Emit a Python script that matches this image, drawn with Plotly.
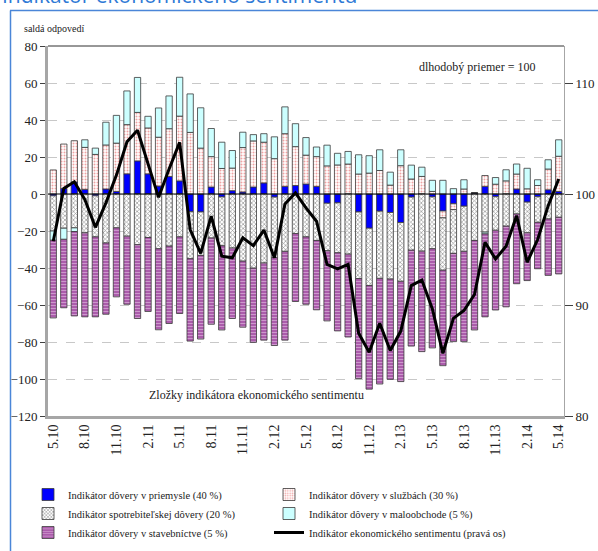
import plotly.graph_objects as go

months = ["5.10", "6.10", "7.10", "8.10", "9.10", "10.10", "11.10", "12.10",
          "1.11", "2.11", "3.11", "4.11", "5.11", "6.11", "7.11", "8.11", "9.11", "10.11", "11.11", "12.11",
          "1.12", "2.12", "3.12", "4.12", "5.12", "6.12", "7.12", "8.12", "9.12", "10.12", "11.12", "12.12",
          "1.13", "2.13", "3.13", "4.13", "5.13", "6.13", "7.13", "8.13", "9.13", "10.13", "11.13", "12.13",
          "1.14", "2.14", "3.14", "4.14", "5.14"]
tick_labels = ["5.10", "8.10", "11.10", "2.11", "5.11", "8.11", "11.11", "2.12", "5.12",
               "8.12", "11.12", "2.13", "5.13", "8.13", "11.13", "2.14", "5.14"]

industry = [-1, 3, 6.5, 2.5, -1, 2.7, 1.4, 10.9, 17.9, 10.9, 4.3, 9.5, 7.1, -9.6, -9.7, 3.8, -1.6, 1.8,
            1.1, 3.8, 6.0, -1.7, 4.1, 4.6, 5.4, 4.1, -5.0, -4.8, 0, -9.7, -18.5, -9.3, -10.0, -15.4, -1.7,
            0, -1.6, -9.2, -5.3, -6.6, 0.6, 4.1, -1.5, 0, 2.7, -4.4, -1.5, 2.3, 1.4]
services = [13, 24, 22.3, 22.7, 21.4, 23.8, 26.1, 26.6, 26.2, 24.8, 26.4, 25.8, 35, 33.3, 24.8, 16.4, 13.8,
            12.2, 24, 24.9, 22, 19.1, 28.5, 21, 15.6, 16.1, 15.2, 15.7, 16.2, 10.8, 11.3, 12.7, 4.8, 15.3,
            8.1, 9.5, 1.4, -3.7, -3.1, 2.7, 0, 5.9, 5.3, 7.1, 8.1, 2.8, 4.6, 11.2, 19]
consumer = [-19, -18.5, -18.3, -21, -22.2, -26.5, -18.3, -22.8, -27.4, -23.5, -29.6, -28.2, -23.2, -25.4,
            -23.5, -23.8, -26.4, -29.2, -36.3, -40.1, -37.3, -32.7, -31, -21.4, -23.2, -25.1, -25.7, -27,
            -32.5, -36, -31, -36.3, -36, -31.8, -28.7, -30.9, -28, -28.3, -23.7, -24.4, -25.1, -20.6,
            -18.1, -17.4, -10.8, -16.6, -13.8, -13.5, -12.6]
retail = [-5, -6, -2, 4.1, 3.4, 12.3, 15, 18.2, 18.9, 6.3, 15.8, 17.7, 21, 20.8, 21.8, 15.2, 14.2, 9.5,
          8.3, 3.4, 4.6, 11.8, 14.5, 12.4, 9.5, 5.2, 11.2, 6.3, 6.8, 10.4, 9.4, 11.2, 7, 8.6, 7.5, 5, 6,
          7.4, 2.9, 5, 0, -1, 3.6, 6, 5.4, 11.1, 3.1, 5, 8.9]
construction = [-42, -37, -45.6, -45.4, -43.2, -38.5, -37.3, -36.8, -39.9, -40, -43.8, -41.8, -41.4,
                -44.5, -45.2, -46.6, -45.5, -38.1, -35.7, -40.1, -41.7, -47.5, -48, -36.7, -36.4, -37.5,
                -37.9, -42.2, -44.8, -54.1, -56, -57.1, -54.2, -54.2, -51.8, -54.3, -53.6, -51.6, -47.7,
                -48.8, -48.4, -44.8, -43.1, -43.6, -37.7, -25.8, -25.1, -30.5, -30.6]
esi = [95.75, 100.5, 101.1, 99.5, 97.0, 99.2, 101.7, 104.7, 105.75, 102.8, 99.7, 102.25, 104.65, 96.8,
       94.65, 98.0, 94.4, 94.25, 96.05, 95.35, 96.75, 94.25, 99.1, 100.1, 98.75, 97.55, 93.65, 93.25,
       93.65, 87.45, 85.75, 88.35, 85.9, 87.65, 91.75, 92.25, 89.65, 85.65, 88.8, 89.5, 90.95, 95.65,
       94.15, 95.3, 98.05, 93.85, 95.9, 98.95, 101.35]

names = ["Indikátor dôvery v priemysle (40 %)",
         "Indikátor dôvery v službách (30 %)",
         "Indikátor spotrebiteľskej dôvery (20 %)",
         "Indikátor dôvery v maloobchode (5 %)",
         "Indikátor dôvery v stavebníctve (5 %)",
         "Indikátor ekonomického sentimentu (pravá os)"]

SERIF = "Liberation Serif, Times New Roman, serif"
L, R, T, B = 48, 34, 46, 135
W, H = 598, 551
PW, PH = W - L - R, H - T - B


def px(x):
    return (x - L) / PW


def py(y):
    return (H - B - y) / PH


line_style = dict(color="#3a3a3a", width=0.8)

fig = go.Figure()
fig.add_trace(go.Bar(x=months, y=industry, name=names[0], width=0.6,
                     marker=dict(color="#0000FF", line=line_style)))
fig.add_trace(go.Bar(x=months, y=services, name=names[1], width=0.6,
                     marker=dict(color="white", line=line_style,
                                 pattern=dict(shape=".", fgcolor="#E04848", bgcolor="white",
                                              size=3, solidity=0.35))))
fig.add_trace(go.Bar(x=months, y=consumer, name=names[2], width=0.6,
                     marker=dict(color="white", line=line_style,
                                 pattern=dict(shape="x", fgcolor="#2a2a2a", bgcolor="white",
                                              size=3, solidity=0.4))))
fig.add_trace(go.Bar(x=months, y=retail, name=names[3], width=0.6,
                     marker=dict(color="#CCFFFF", line=line_style)))
fig.add_trace(go.Bar(x=months, y=construction, name=names[4], width=0.6,
                     marker=dict(color="#B060B0", line=line_style,
                                 pattern=dict(shape="-", fgcolor="#F2D9F2", bgcolor="#A855A8",
                                              size=3, solidity=0.4))))
fig.add_trace(go.Scatter(x=months, y=esi, name=names[5], yaxis="y2", mode="lines",
                         line=dict(color="black", width=3)))

fig.update_layout(
    width=W, height=H,
    margin=dict(l=L, r=R, t=T, b=B, autoexpand=False),
    barmode="relative",
    paper_bgcolor="white", plot_bgcolor="white",
    font=dict(family=SERIF, color="#222222", size=12),
    xaxis=dict(type="category", range=[-0.5, len(months) - 0.5],
               tickmode="array", tickvals=tick_labels, ticktext=tick_labels,
               tickangle=-90, tickfont=dict(family=SERIF, size=14, color="#222"),
               showline=True, linecolor="#A6A6A6", linewidth=3, ticks="",
               showgrid=False, zeroline=False),
    yaxis=dict(range=[-120, 80], tickvals=list(range(-120, 81, 20)),
               tickfont=dict(family=SERIF, size=13, color="#222"),
               showgrid=True, gridcolor="#C8C8C8", griddash="dash", gridwidth=1,
               zeroline=False, showline=True, linecolor="#A6A6A6", linewidth=3,
               ticks="outside", ticklen=5, tickcolor="#404040"),
    yaxis2=dict(range=[80, 80 + 200 / 6], overlaying="y", side="right",
                tickvals=[80, 90, 100, 110],
                tickfont=dict(family=SERIF, size=13, color="#222"),
                showgrid=False, zeroline=False, showline=True, linecolor="#A6A6A6",
                linewidth=1, ticks="outside", ticklen=8, tickcolor="#404040"),
    legend=dict(orientation="h", x=px(28), y=py(480), xanchor="left", yanchor="top",
                entrywidth=196, entrywidthmode="pixels", itemwidth=30,
                font=dict(family=SERIF, size=10.5, color="#222"), bgcolor="rgba(0,0,0,0)",
                traceorder="normal", tracegroupgap=0),
    showlegend=True,
)

fig.add_shape(type="line", xref="paper", yref="y", x0=0, x1=1, y0=0, y1=0,
              line=dict(color="black", width=1), layer="above")
fig.add_shape(type="line", xref="paper", yref="paper", x0=0, x1=1, y0=1, y1=1,
              line=dict(color="#303030", width=1), layer="above")
# blue frame
fig.add_shape(type="line", xref="paper", yref="paper", x0=px(10), x1=px(600), y0=py(10.5), y1=py(10.5),
              line=dict(color="#4A86D8", width=1.5))
fig.add_shape(type="line", xref="paper", yref="paper", x0=px(10.5), x1=px(10.5), y0=py(10.5), y1=py(560),
              line=dict(color="#4A86D8", width=1.5))

fig.add_annotation(text="Indikátor ekonomického sentimentu", xref="paper", yref="paper",
                   x=px(0), y=py(-4.5), xanchor="left", yanchor="middle", showarrow=False,
                   font=dict(family="Open Sans, DejaVu Sans, sans-serif", size=21, color="#2F7AD6"))
fig.add_annotation(text="saldá odpovedí", xref="paper", yref="paper", x=px(22), y=py(28),
                   xanchor="left", yanchor="middle", showarrow=False,
                   font=dict(family=SERIF, size=10, color="#222"))
fig.add_annotation(text="dlhodobý priemer = 100", xref="paper", yref="paper", x=px(417), y=py(67),
                   xanchor="left", yanchor="middle", showarrow=False,
                   font=dict(family=SERIF, size=12, color="#222"))
fig.add_annotation(text="Zložky indikátora ekonomického sentimentu", xref="paper", yref="paper",
                   x=px(256), y=py(395), xanchor="center", yanchor="middle", showarrow=False,
                   font=dict(family=SERIF, size=12, color="#222"))

fig.write_html("out.html", config={"displayModeBar": False},
               post_script="document.body.style.margin='0px';")
